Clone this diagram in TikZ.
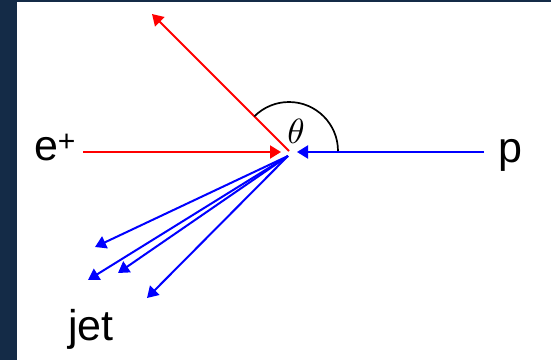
\documentclass[tikz,border=0pt]{standalone}
\usepackage{graphicx}
\usepackage{fontspec}
\setmainfont{Liberation Sans}
\usetikzlibrary{arrows.meta,calc}
\definecolor{slate}{HTML}{142B47}
\definecolor{eplus}{HTML}{FF0000}
\definecolor{proton}{HTML}{0000FF}
\tikzset{
  beam/.style = {line width=2pt, -{Triangle[length=11pt,width=13pt]}},
  lbl/.style = {font=\fontsize{43}{46}\selectfont, inner sep=0pt}
}

\begin{document}
\begin{tikzpicture}[x=1pt,y=1pt]

  % panel and frame
  \fill[slate] (0,0) rectangle (551,360);
  \fill[white] (17,0) rectangle (551,358);
  \useasboundingbox (0,0) rectangle (551,360);

  \coordinate (vtx) at (289,209);
  \coordinate (eTip) at (281,208);
  \coordinate (pTip) at (297,208);
  \coordinate (eOut) at (152,346);
  \coordinate (jetSrc) at (288,204);

  \node[lbl] (ep) at (55,212) {e\textsuperscript{+}};
  \node[lbl] (pr) at (510,205) {p};
  \node[lbl] (jet) at (91,31) {jet};
  \node[inner sep=0pt] (th) at (296,229) {\scalebox{3.5}{$\theta$}};

  \coordinate (eIn) at (83,208);
  \coordinate (pIn) at (484,208);

  \draw[beam, eplus] (eIn) -- (eTip);
  \draw[beam, proton] (pIn) -- (pTip);
  \draw[beam, eplus] (vtx) -- (eOut);

  \draw[line width=1.7pt] ($(vtx)+(49,0)$) arc[start angle=0, end angle=135, radius=49];

  \foreach \x/\y [count=\i] in {95/113, 88/80, 118/87, 147/62}{
    \coordinate (jt\i) at (\x,\y);
    \draw[beam, proton] (jetSrc) -- (jt\i);
  }

\end{tikzpicture}
\end{document}
